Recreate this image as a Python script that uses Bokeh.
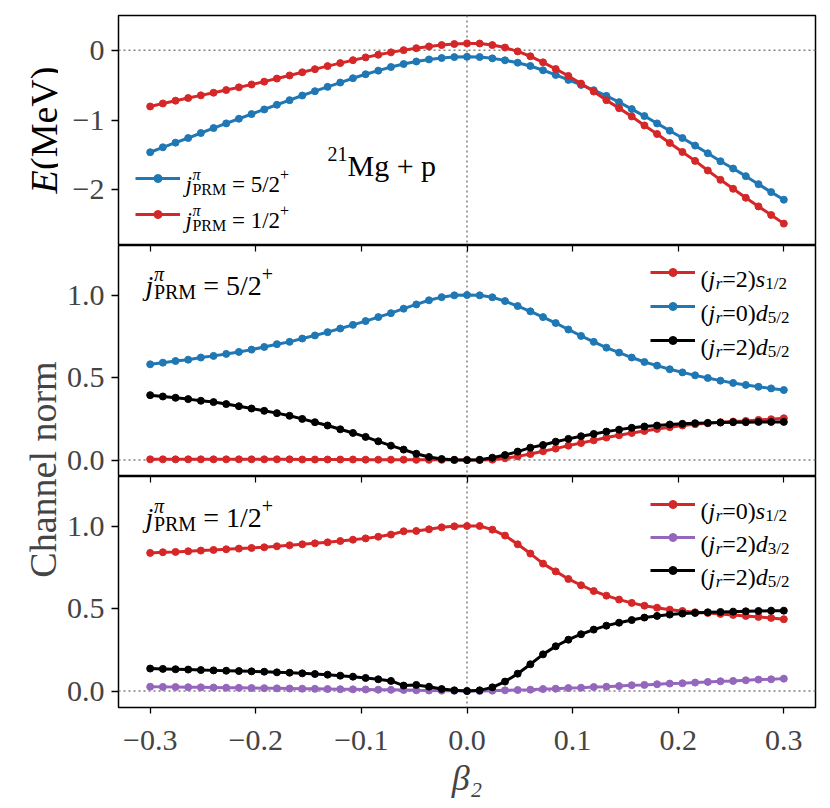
import math
from bokeh.plotting import figure
from bokeh.models import Range1d, FixedTicker, Span, Label, Legend, LegendItem, LinearAxis
from bokeh.layouts import column, row
from bokeh.embed import file_html
from bokeh.resources import INLINE

# ---------------- data ----------------
BETA2 = [-0.300, -0.288, -0.276, -0.264, -0.252, -0.240, -0.228, -0.216, -0.204, -0.192,
         -0.180, -0.168, -0.156, -0.144, -0.132, -0.120, -0.108, -0.096, -0.084, -0.072,
         -0.060, -0.048, -0.036, -0.024, -0.012, 0.000, 0.012, 0.024, 0.036, 0.048,
         0.060, 0.072, 0.084, 0.096, 0.108, 0.120, 0.132, 0.144, 0.156, 0.168,
         0.180, 0.192, 0.204, 0.216, 0.228, 0.240, 0.252, 0.264, 0.276, 0.288, 0.300]

# E (MeV), j_PRM = 5/2+
E_52 = [-1.462, -1.391, -1.324, -1.258, -1.186, -1.115, -1.048, -0.981, -0.915, -0.848,
        -0.781, -0.715, -0.648, -0.586, -0.524, -0.462, -0.400, -0.343, -0.291, -0.239,
        -0.196, -0.160, -0.130, -0.110, -0.097, -0.092,
        -0.096, -0.115, -0.143, -0.177, -0.224, -0.286, -0.353, -0.424, -0.496, -0.572,
        -0.653, -0.743, -0.843, -0.943, -1.048, -1.153, -1.258, -1.367, -1.477, -1.591,
        -1.696, -1.805, -1.920, -2.034, -2.143]
# E (MeV), j_PRM = 1/2+
E_12 = [-0.805, -0.762, -0.722, -0.684, -0.646, -0.608, -0.570, -0.531, -0.490, -0.449,
        -0.405, -0.360, -0.315, -0.270, -0.226, -0.183, -0.141, -0.101, -0.063, -0.029,
        0.003, 0.031, 0.056, 0.076, 0.091, 0.100,
        0.098, 0.076, 0.040, -0.015, -0.085, -0.172, -0.268, -0.367, -0.477, -0.591,
        -0.715, -0.829, -0.948, -1.077, -1.200, -1.329, -1.458, -1.586, -1.724, -1.858,
        -1.986, -2.115, -2.239, -2.362, -2.486]

# channel norms, j_PRM = 5/2+
N52_JR2_S12 = [0.004, 0.004, 0.004, 0.004, 0.004, 0.004, 0.004, 0.004, 0.004, 0.004,
               0.004, 0.004, 0.003, 0.003, 0.003, 0.003, 0.003, 0.002, 0.002, 0.002,
               0.002, 0.001, 0.001, 0.001, 0.000, 0.000,
               0.000, 0.002, 0.010, 0.022, 0.036, 0.053, 0.069, 0.087, 0.103, 0.119,
               0.136, 0.150, 0.164, 0.176, 0.188, 0.199, 0.209, 0.217, 0.223, 0.229,
               0.233, 0.237, 0.243, 0.247, 0.253]
N52_JR0_D52 = [0.580, 0.590, 0.600, 0.608, 0.621, 0.631, 0.643, 0.655, 0.669, 0.685,
               0.702, 0.716, 0.736, 0.755, 0.775, 0.797, 0.819, 0.842, 0.866, 0.890,
               0.917, 0.943, 0.968, 0.987, 0.998, 1.000,
               0.998, 0.986, 0.963, 0.933, 0.901, 0.866, 0.830, 0.791, 0.752, 0.716,
               0.681, 0.651, 0.621, 0.594, 0.572, 0.550, 0.531, 0.513, 0.497, 0.481,
               0.467, 0.455, 0.444, 0.434, 0.424]
N52_JR2_D52 = [0.393, 0.385, 0.377, 0.369, 0.359, 0.351, 0.339, 0.326, 0.312, 0.298,
               0.284, 0.268, 0.249, 0.229, 0.209, 0.186, 0.164, 0.140, 0.113, 0.087,
               0.063, 0.038, 0.018, 0.006, 0.001, 0.000,
               0.001, 0.014, 0.030, 0.051, 0.075, 0.091, 0.111, 0.128, 0.144, 0.158,
               0.172, 0.184, 0.195, 0.203, 0.209, 0.215, 0.219, 0.223, 0.225, 0.227,
               0.229, 0.229, 0.231, 0.231, 0.231]

# channel norms, j_PRM = 1/2+
N12_JR0_S12 = [0.837, 0.841, 0.843, 0.847, 0.851, 0.855, 0.859, 0.863, 0.867, 0.871,
               0.877, 0.883, 0.889, 0.895, 0.901, 0.909, 0.917, 0.925, 0.935, 0.948,
               0.968, 0.970, 0.980, 0.992, 0.998, 1.000,
               1.000, 0.978, 0.942, 0.889, 0.833, 0.772, 0.725, 0.679, 0.641, 0.606,
               0.578, 0.554, 0.534, 0.517, 0.505, 0.493, 0.485, 0.477, 0.473, 0.467,
               0.461, 0.455, 0.449, 0.443, 0.435]
N12_JR2_D32 = [0.026, 0.025, 0.024, 0.023, 0.022, 0.021, 0.020, 0.019, 0.018, 0.017,
               0.016, 0.015, 0.014, 0.013, 0.012, 0.011, 0.010, 0.009, 0.008, 0.007,
               0.006, 0.004, 0.003, 0.002, 0.001, 0.000,
               0.000, 0.002, 0.004, 0.006, 0.008, 0.012, 0.014, 0.018, 0.020, 0.024,
               0.026, 0.030, 0.035, 0.037, 0.041, 0.045, 0.047, 0.051, 0.055, 0.059,
               0.061, 0.065, 0.069, 0.071, 0.075]
N12_JR2_D52 = [0.136, 0.134, 0.132, 0.130, 0.127, 0.125, 0.123, 0.121, 0.119, 0.117,
               0.113, 0.111, 0.107, 0.103, 0.099, 0.093, 0.087, 0.079, 0.071, 0.061,
               0.033, 0.037, 0.026, 0.012, 0.004, 0.000,
               0.004, 0.022, 0.057, 0.105, 0.162, 0.222, 0.271, 0.311, 0.344, 0.372,
               0.396, 0.414, 0.430, 0.445, 0.455, 0.463, 0.469, 0.473, 0.477, 0.479,
               0.481, 0.483, 0.485, 0.487, 0.487]

X_TICKS = [-0.3, -0.2, -0.1, 0.0, 0.1, 0.2, 0.3]
X_TICK_LABELS = ["\u22120.3", "\u22120.2", "\u22120.1", "0.0", "0.1", "0.2", "0.3"]
E_TICKS = [-2, -1, 0]
E_TICK_LABELS = ["\u22122", "\u22121", "0"]
N_TICKS = [0.0, 0.5, 1.0]
N_TICK_LABELS = ["0.0", "0.5", "1.0"]

# ---------------- style ----------------
FONT = "Liberation Serif"
BLUE = "#1f77b4"
RED = "#d62728"
PURPLE = "#9467bd"
BLACK = "#000000"
GREY = "#808080"

W_N = {'(': .333, ')': .333, '=': .564, '+': .564, '/': .278, ' ': .25, '.': .25,
       'M': .889, 'e': .444, 'V': .722, 'g': .5, 'p': .5, 'P': .556, 'R': .667}
W_I = {'j': .30, 'r': .39, 's': .39, 'd': .5, 'E': .62, '\u03c0': .52, '\u03b2': .52}


def text_width(t, italic, size):
    table = W_I if italic else W_N
    return sum(table.get(c, W_N.get(c, .5)) for c in t) * size


def rich(fig, x, y, pieces, angle=0.0):
    """pieces: list of (text, italic, size, rise) or lists of them (stacked).
    Pieces made only of blanks just advance the pen."""
    adv = 0.0
    for item in pieces:
        stack = item if isinstance(item, list) else [item]
        w = 0.0
        for (t, it, sz, rise) in stack:
            w = max(w, text_width(t, it, sz))
            if t.strip() == "":
                continue
            if angle == 0.0:
                lx, ly = x + adv, y + rise
            else:
                lx, ly = x - rise, y + adv
            fig.add_layout(Label(x=lx, y=ly, x_units="screen", y_units="screen", text=t,
                                 text_font=FONT, text_font_style="italic" if it else "normal",
                                 text_font_size=f"{sz}px", text_color="black",
                                 text_align="left", text_baseline="alphabetic", angle=angle))
        adv += w


def jprm(s, frac):
    sm = round(0.7 * s)
    return [("j", True, s, 0),
            [("\u03c0", True, sm, round(0.42 * s)), ("PRM", False, sm, -round(0.22 * s))],
            (" ", False, s, 0), ("=", False, s, 0), (" ", False, s, 0),
            (frac, False, s, 0), ("+", False, sm, round(0.42 * s))]


def chan(s, jr, l, j):
    sm = round(0.7 * s)
    return [("(", False, s, 0), ("j", True, s, 0), ("r", True, sm, -round(0.2 * s)),
            ("=" + jr + ")", False, s, 0), (l, True, s, 0), (j, False, sm, -round(0.2 * s))]


x_range = Range1d(-0.33, 0.33)


def make_fig(height, yr, yticks, ylabels, top, bottom, xaxis, top_ticks):
    p = figure(width=764, height=height, x_range=x_range, y_range=Range1d(*yr),
               output_backend="svg", toolbar_location=None,
               x_axis_location="below" if xaxis else None,
               min_border_left=60, min_border_right=7, min_border_top=top,
               min_border_bottom=bottom)
    p.grid.visible = False
    p.outline_line_color = "black"
    p.outline_line_width = 1.5
    p.background_fill_color = "white"
    p.border_fill_color = "white"
    ya = p.yaxis[0]
    ya.ticker = FixedTicker(ticks=yticks)
    ya.major_label_overrides = {t: l for t, l in zip(yticks, ylabels)}
    ya.major_tick_out = 7
    ya.major_tick_in = 0
    ya.minor_tick_out = 0
    ya.minor_tick_in = 0
    ya.axis_line_color = None
    ya.major_tick_line_width = 1.3
    ya.major_label_text_font = FONT
    ya.major_label_text_font_size = "30px"
    ya.major_label_standoff = 7
    if xaxis:
        xa = p.xaxis[0]
        xa.ticker = FixedTicker(ticks=X_TICKS)
        xa.major_label_overrides = {t: l for t, l in zip(X_TICKS, X_TICK_LABELS)}
        xa.major_tick_out = 6
        xa.major_tick_in = 0
        xa.minor_tick_out = 0
        xa.minor_tick_in = 0
        xa.axis_line_color = None
        xa.major_tick_line_width = 1.3
        xa.major_label_text_font = FONT
        xa.major_label_text_font_size = "30px"
        xa.major_label_standoff = 17
        xa.axis_label = "\u03b2\u2082"
        xa.axis_label_text_font = FONT
        xa.axis_label_text_font_style = "italic"
        xa.axis_label_text_font_size = "36px"
        xa.axis_label_standoff = 5
    if top_ticks:
        ta = LinearAxis(ticker=FixedTicker(ticks=X_TICKS), major_tick_in=6, major_tick_out=0,
                        minor_tick_in=0, minor_tick_out=0, axis_line_color=None,
                        major_tick_line_width=1.2, major_label_text_font_size="0px",
                        major_label_standoff=0,
                        major_label_overrides={t: "" for t in X_TICKS})
        p.add_layout(ta, "above")
    for dim in ("width", "height"):
        p.add_layout(Span(location=0, dimension=dim, line_color=GREY, line_dash="2 3",
                          line_width=1.5, level="underlay"))
    return p


def series(p, y, color):
    r1 = p.line(BETA2, y, line_color=color, line_width=3)
    r2 = p.scatter(BETA2, y, size=7, fill_color=color, line_color=color)
    return [r1, r2]


def legend(p, items, loc, spacing):
    lg = Legend(items=[LegendItem(label=" ", renderers=r) for r in items],
                location=loc, orientation="vertical", padding=0, margin=0,
                spacing=spacing, glyph_width=45, glyph_height=20, label_height=20,
                label_width=1, label_standoff=0, label_text_font_size="1px",
                border_line_color=None, background_fill_alpha=0)
    p.add_layout(lg)


# ---- top panel ----
p1 = make_fig(245, (-2.8, 0.5), E_TICKS, E_TICK_LABELS, 15, 0, False, False)
rb = series(p1, E_52, BLUE)
rr = series(p1, E_12, RED)
legend(p1, [rb, rr], (17, 21), 16)
rich(p1, 67, 61, jprm(23, "5/2"))
rich(p1, 67, 25, jprm(23, "1/2"))
rich(p1, 209, 80, [("21", False, 20, 12), ("Mg + p", False, 30, 0)])

# ---- middle panel ----
p2 = make_fig(231, (-0.1, 1.3), N_TICKS, N_TICK_LABELS, 0, 0, False, True)
a = series(p2, N52_JR2_S12, RED)
b = series(p2, N52_JR0_D52, BLUE)
c = series(p2, N52_JR2_D52, BLACK)
legend(p2, [a, b, c], (532, 126), 14)
rich(p2, 27, 191, jprm(28, "5/2"))
rich(p2, 582, 198, chan(24, "2", "s", "1/2"))
rich(p2, 582, 164, chan(24, "0", "d", "5/2"))
rich(p2, 582, 130, chan(24, "2", "d", "5/2"))

# ---- bottom panel ----
p3 = make_fig(324, (-0.1, 1.3), N_TICKS, N_TICK_LABELS, 0, 93, True, True)
a = series(p3, N12_JR0_S12, RED)
b = series(p3, N12_JR2_D32, PURPLE)
c = series(p3, N12_JR2_D52, BLACK)
legend(p3, [a, b, c], (532, 127), 13)
rich(p3, 27, 190, jprm(28, "1/2"))
rich(p3, 582, 197, chan(24, "0", "s", "1/2"))
rich(p3, 582, 164, chan(24, "2", "d", "3/2"))
rich(p3, 582, 131, chan(24, "2", "d", "5/2"))

# ---- y-axis titles column ----
lab = figure(width=58, height=800, x_range=Range1d(0, 1), y_range=Range1d(0, 1),
             x_axis_type=None, y_axis_type=None, output_backend="svg",
             toolbar_location=None, min_border=0)
lab.outline_line_color = None
lab.grid.visible = False
rich(lab, 43, 607, [("E", True, 38, 0), ("(MeV)", False, 38, 0)], angle=math.pi / 2)
lab.add_layout(Label(x=42, y=331, x_units="screen", y_units="screen", text="Channel norm",
                     text_font=FONT, text_font_size="38px", text_align="center",
                     text_baseline="alphabetic", angle=math.pi / 2))

layout = row(lab, column(p1, p2, p3))
open("out.html", "w").write(file_html(layout, INLINE))
